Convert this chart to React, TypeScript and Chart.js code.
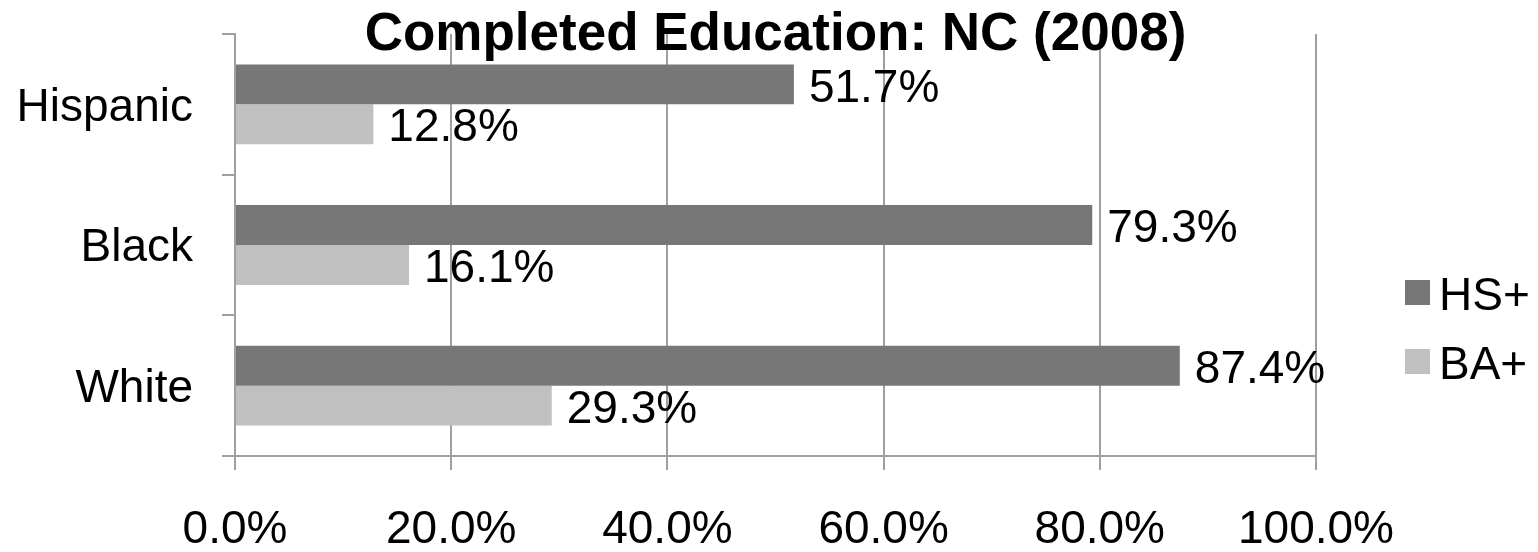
import React, { useEffect, useRef } from "react";
import { Chart, registerables } from "chart.js";

Chart.register(...registerables);

const categories = ["Hispanic", "Black", "White"];
const hsPlus = [51.7, 79.3, 87.4];
const baPlus = [12.8, 16.1, 29.3];
const seriesNames = ["HS+", "BA+"];
const seriesColors = ["#777777", "#c0c0c0"];
const xTicks = [0, 20, 40, 60, 80, 100];
const titleText = "Completed Education: NC (2008)";

const FONT = "'Liberation Sans', Arial, Helvetica, sans-serif";
const GRID = "#a0a0a0";

const dataLabelPlugin = {
  id: "dataLabels",
  afterDatasetsDraw(chart: any) {
    const ctx = chart.ctx;
    ctx.save();
    ctx.font = `46px ${FONT}`;
    ctx.fillStyle = "#000000";
    ctx.textAlign = "left";
    ctx.textBaseline = "middle";
    chart.data.datasets.forEach((ds: any, di: number) => {
      const meta = chart.getDatasetMeta(di);
      meta.data.forEach((bar: any, i: number) => {
        const v = ds.data[i];
        ctx.fillText(v.toFixed(1) + "%", bar.x + 15, bar.y + 4.5);
      });
    });
    ctx.restore();
  },
};

const legendPlugin = {
  id: "customLegend",
  afterDraw(chart: any) {
    const ctx = chart.ctx;
    const area = chart.chartArea;
    ctx.save();
    ctx.font = `46px ${FONT}`;
    ctx.textAlign = "left";
    ctx.textBaseline = "middle";
    const x0 = area.right + 89;
    const yStart = 280;
    const step = 69;
    chart.data.datasets.forEach((ds: any, i: number) => {
      const y = yStart + i * step;
      ctx.fillStyle = ds.backgroundColor;
      ctx.fillRect(x0, y, 25, 25);
      ctx.fillStyle = "#000000";
      ctx.fillText(ds.label, x0 + 34, y + 17.5);
    });
    ctx.restore();
  },
};

export default function App() {
  const ref = useRef<HTMLCanvasElement | null>(null);

  useEffect(() => {
    if (!ref.current) return;
    const chart = new Chart(ref.current, {
      type: "bar",
      data: {
        labels: categories,
        datasets: [
          {
            label: seriesNames[0],
            data: hsPlus,
            backgroundColor: seriesColors[0],
            categoryPercentage: 0.567,
            barPercentage: 1,
          },
          {
            label: seriesNames[1],
            data: baPlus,
            backgroundColor: seriesColors[1],
            categoryPercentage: 0.567,
            barPercentage: 1,
          },
        ],
      },
      options: {
        indexAxis: "y",
        responsive: false,
        animation: false,
        layout: { padding: { left: 0, right: 222, top: 0, bottom: 0 } },
        plugins: {
          legend: { display: false },
          tooltip: { enabled: false },
          title: {
            display: true,
            text: titleText,
            fullSize: false,
            color: "#000000",
            font: { family: FONT, size: 53, weight: "bold", lineHeight: 1 },
            padding: { top: 8.5, bottom: -27.5 },
          },
        },
        scales: {
          x: {
            type: "linear",
            min: 0,
            max: 100,
            afterBuildTicks(scale: any) {
              scale.ticks = xTicks.map((v) => ({ value: v }));
            },
            afterFit(scale: any) {
              scale.height = 96;
              scale.paddingLeft = 0;
              scale.paddingRight = 0;
              scale.paddingTop = 0;
              scale.paddingBottom = 0;
            },
            ticks: {
              color: "#000000",
              font: { family: FONT, size: 46 },
              padding: 33,
              maxRotation: 0,
              autoSkip: false,
              callback: (v: any) => Number(v).toFixed(1) + "%",
            },
            grid: {
              color: GRID,
              lineWidth: 2,
              tickLength: 14,
              drawTicks: true,
            },
            border: { display: true, color: GRID, width: 2 },
          },
          y: {
            type: "category",
            afterFit(scale: any) {
              scale.width = 235;
              scale.paddingLeft = 0;
              scale.paddingRight = 0;
              scale.paddingTop = 0;
              scale.paddingBottom = 0;
            },
            ticks: {
              color: "#000000",
              font: { family: FONT, size: 46 },
              padding: 29,
              labelOffset: 3.5,
            },
            grid: {
              offset: true,
              drawOnChartArea: false,
              drawTicks: true,
              tickLength: 13,
              color: GRID,
              lineWidth: 2,
            },
            border: { display: true, color: GRID, width: 2 },
          },
        },
      },
      plugins: [dataLabelPlugin, legendPlugin],
    } as any);
    return () => chart.destroy();
  }, []);

  return (
    <div style={{ position: "absolute", left: 0, top: 0, width: 1538, height: 552, background: "#ffffff" }}>
      <canvas ref={ref} width={1538} height={552} style={{ display: "block" }} />
    </div>
  );
}
